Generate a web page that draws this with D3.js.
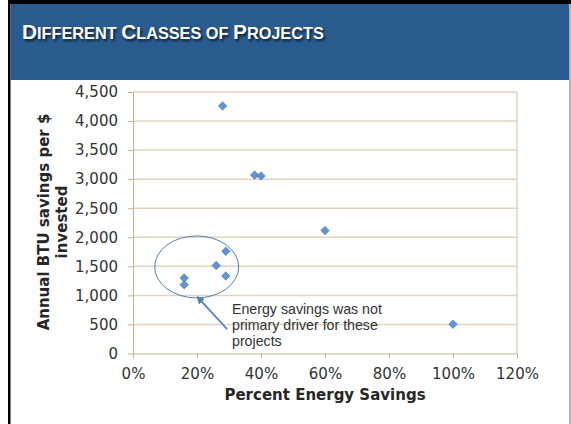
<!DOCTYPE html>
<html>
<head>
<meta charset="utf-8">
<script src="https://cdnjs.cloudflare.com/ajax/libs/d3/7.8.5/d3.min.js"></script>
<style>
  html, body { margin: 0; padding: 0; background: #fff; }
  svg { display: block; }
</style>
</head>
<body>
<svg id="chart" width="571" height="424"></svg>
<script>
// data
var pctSavings = [28, 38, 40, 60, 100, 29, 26, 29, 16, 16];
var btuPerDollar = [4260, 3070, 3055, 2115, 505, 1760, 1515, 1335, 1300, 1185];
var xTicks = [0, 20, 40, 60, 80, 100, 120];
var yTicks = [0, 500, 1000, 1500, 2000, 2500, 3000, 3500, 4000, 4500];
var noteLines = ['Energy savings was not', 'primary driver for these', 'projects'];

var svg = d3.select('#chart');
var defs = svg.append('defs');

// slide frame + header
svg.append('rect').attr('x', 8).attr('y', 0).attr('width', 563).attr('height', 4).attr('fill', '#000');
svg.append('rect').attr('x', 8).attr('y', 0).attr('width', 2.5).attr('height', 424).attr('fill', '#000');
svg.append('rect').attr('x', 10.5).attr('y', 4).attr('width', 559).attr('height', 76).attr('fill', '#295b8e');
svg.append('rect').attr('x', 569).attr('y', 4).attr('width', 2).attr('height', 420).attr('fill', '#b5b5b5');

// title in small caps, with soft shadow
var shadow = defs.append('filter').attr('id', 'shadow').attr('x', '-5%').attr('y', '-30%')
    .attr('width', '110%').attr('height', '160%');
shadow.append('feGaussianBlur').attr('in', 'SourceGraphic').attr('stdDeviation', 1);

var titleParts = [['D', 20.8], ['IFFERENT ', 16.3], ['C', 20.8], ['LASSES OF ', 16.3], ['P', 20.8], ['ROJECTS', 16.3]];
function drawTitle(dx, dy, color, filt) {
    var t = svg.append('text').attr('x', 22 + dx).attr('y', 39 + dy)
        .attr('font-family', 'Liberation Sans, Arial, sans-serif').attr('font-weight', 'bold')
        .attr('fill', color);
    if (filt) t.attr('filter', 'url(#shadow)');
    titleParts.forEach(function (p) {
        t.append('tspan').attr('font-size', p[1] + 'px').text(p[0]);
    });
}
drawTitle(1.5, 1.5, '#0a1a2c', true);
drawTitle(0, 0, '#fff', false);

var x = d3.scaleLinear().domain([0, 120]).range([133, 517]);
var y = d3.scaleLinear().domain([0, 4500]).range([353.5, 92]);

var grid = svg.append('g');
grid.selectAll('line').data(yTicks.slice(1)).enter().append('line')
    .attr('x1', x(0)).attr('x2', x(120))
    .attr('y1', function (d) { return y(d); }).attr('y2', function (d) { return y(d); })
    .attr('stroke', '#e2d3bf').attr('stroke-width', 1.5);

// plot border
svg.append('line').attr('x1', x(120)).attr('x2', x(120)).attr('y1', y(4500)).attr('y2', y(0))
    .attr('stroke', '#d2bfa3').attr('stroke-width', 1);

var xAxis = svg.append('g').attr('transform', 'translate(0,' + y(0) + ')')
    .call(d3.axisBottom(x).tickValues(xTicks).tickFormat(function (d) { return d + '%'; })
        .tickSizeInner(5).tickSizeOuter(0).tickPadding(10));
var yAxis = svg.append('g').attr('transform', 'translate(' + x(0) + ',0)')
    .call(d3.axisLeft(y).tickValues(yTicks).tickFormat(d3.format(','))
        .tickSizeInner(5).tickSizeOuter(0).tickPadding(10));

[xAxis, yAxis].forEach(function (a) {
    a.select('.domain').attr('stroke', '#c9b28f');
    a.selectAll('.tick line').attr('stroke', '#c9b28f');
    a.selectAll('.tick text').attr('fill', '#333').attr('font-size', '15px')
        .attr('font-family', 'DejaVu Sans, Verdana, sans-serif');
});

// axis titles
svg.append('text').attr('x', x(60)).attr('y', 400).attr('text-anchor', 'middle')
    .attr('font-family', 'DejaVu Sans, Verdana, sans-serif').attr('font-weight', 'bold')
    .attr('font-size', '15px').attr('fill', '#262626').text('Percent Energy Savings');
svg.append('text').attr('transform', 'translate(48.5,222) rotate(-90)').attr('text-anchor', 'middle')
    .attr('font-family', 'DejaVu Sans, Verdana, sans-serif').attr('font-weight', 'bold')
    .attr('font-size', '15px').attr('fill', '#262626').text('Annual BTU savings per $');
svg.append('text').attr('transform', 'translate(67,222) rotate(-90)').attr('text-anchor', 'middle')
    .attr('font-family', 'DejaVu Sans, Verdana, sans-serif').attr('font-weight', 'bold')
    .attr('font-size', '15px').attr('fill', '#262626').text('invested');

// ellipse + arrow annotation
defs.append('marker').attr('id', 'arrow').attr('viewBox', '0 0 10 10').attr('refX', 8).attr('refY', 5)
    .attr('markerWidth', 5).attr('markerHeight', 5).attr('orient', 'auto')
    .append('path').attr('d', 'M0,0 L10,5 L0,10 z').attr('fill', '#4f7fb8');

svg.append('ellipse').attr('cx', x(19.9)).attr('cy', y(1490)).attr('rx', 42).attr('ry', 31)
    .attr('fill', 'none').attr('stroke', '#4f81bd').attr('stroke-width', 1);
svg.append('line').attr('x1', x(29.4)).attr('y1', y(420)).attr('x2', x(20.2)).attr('y2', y(970))
    .attr('stroke', '#4f7fb8').attr('stroke-width', 1.6).attr('marker-end', 'url(#arrow)');

var note = svg.append('text').attr('font-family', 'Liberation Sans, Arial, sans-serif')
    .attr('font-size', '14.2px').attr('fill', '#333');
note.selectAll('tspan').data(noteLines).enter().append('tspan')
    .attr('x', 232).attr('y', function (d, i) { return 314 + i * 16; }).text(function (d) { return d; });

// markers
var pts = pctSavings.map(function (v, i) { return [v, btuPerDollar[i]]; });
var diamond = d3.symbol().type(d3.symbolSquare).size(36);
svg.append('g').selectAll('path').data(pts).enter().append('path')
    .attr('d', diamond)
    .attr('transform', function (d) { return 'translate(' + x(d[0]) + ',' + y(d[1]) + ') rotate(45)'; })
    .attr('fill', '#5f93d8').attr('stroke', '#4a7dbb').attr('stroke-width', 0.6);
</script>
</body>
</html>
